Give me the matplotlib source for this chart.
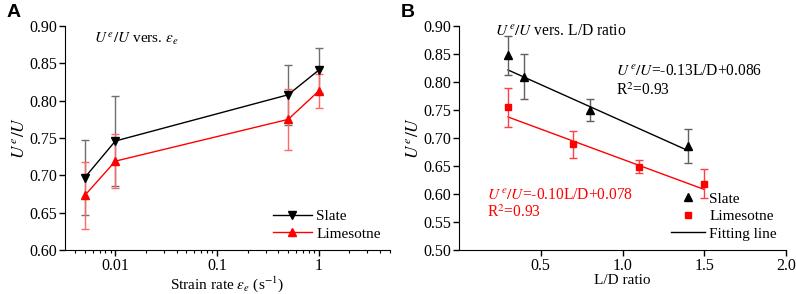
import numpy as np
import matplotlib
matplotlib.use("Agg")
import matplotlib.pyplot as plt
from matplotlib.ticker import FixedLocator, NullFormatter, LogLocator

plt.rcParams["font.family"] = ["Liberation Serif", "DejaVu Serif"]
plt.rcParams["mathtext.fontset"] = "stix"

# panel A: ratio vs strain rate
rate = [0.005, 0.01, 0.5, 1.0]
slate_a = [0.697, 0.746, 0.808, 0.841]
slate_a_err = [0.050, 0.060, 0.040, 0.030]
lime_a = [0.673, 0.719, 0.775, 0.813]
lime_a_err = [0.045, 0.036, 0.041, 0.023]

# panel B: ratio vs L/D
ld_slate = [0.3, 0.4, 0.8, 1.4]
slate_b = [0.848, 0.810, 0.750, 0.686]
slate_b_err = [0.035, 0.040, 0.020, 0.030]
ld_lime = [0.3, 0.7, 1.1, 1.5]
lime_b = [0.755, 0.689, 0.649, 0.618]
lime_b_err = [0.035, 0.024, 0.012, 0.026]

# fitting lines (slope, intercept)
slate_fit = (-0.131, 0.861)
lime_fit = (-0.108, 0.770)

y_ticks = [0.60, 0.65, 0.70, 0.75, 0.80, 0.85, 0.90]
b_y_ticks = [0.50, 0.55, 0.60, 0.65, 0.70, 0.75, 0.80, 0.85, 0.90]

fig = plt.figure(figsize=(7.96, 2.94), dpi=100)
ax_a = fig.add_axes([0.0817, 0.15, 0.408, 0.761])
ax_b = fig.add_axes([0.5766, 0.15, 0.411, 0.761])

fs = 11.5
fs_leg = 11
fs_txt = 11.2

for ax in (ax_a, ax_b):
    ax.spines["top"].set_visible(False)
    ax.spines["right"].set_visible(False)
    ax.tick_params(direction="out", length=4, width=1, labelsize=fs)
    ax.tick_params(axis="y", pad=1.5)
    ax.tick_params(axis="x", pad=1.5)
    ax.tick_params(which="minor", direction="out", length=2.5, width=0.8)

# ---- panel A
ax_a.errorbar(rate, slate_a, yerr=slate_a_err, fmt="none",
              ecolor="#707070", elinewidth=1, capsize=3, zorder=2)
ax_a.errorbar(rate, lime_a, yerr=lime_a_err, fmt="none",
              ecolor="#ff6666", elinewidth=1, capsize=3, zorder=2)
ax_a.plot(rate, slate_a, color="black", lw=1, marker="v", ms=6,
          label="Slate", zorder=3)
ax_a.plot(rate, lime_a, color="red", lw=1, marker="^", ms=6,
          label="Limesotne", zorder=3)

ax_a.set_xscale("log")
ax_a.set_xlim(0.0032, 5.0)
ax_a.set_ylim(0.60, 0.90)
ax_a.set_yticks(y_ticks)
ax_a.set_yticklabels([f"{v:.2f}" for v in y_ticks])
ax_a.xaxis.set_major_locator(FixedLocator([0.01, 0.1, 1]))
ax_a.set_xticklabels(["0.01", "0.1", "1"])
ax_a.xaxis.set_minor_locator(LogLocator(base=10, subs=np.arange(2, 10)))
ax_a.xaxis.set_minor_formatter(NullFormatter())

ax_a.set_ylabel(r"$U^{\,e}/U$", fontsize=fs + 1, labelpad=1)
ax_a.set_xlabel(r"Strain rate $\varepsilon_e$ (s$^{-1}$)", fontsize=11, labelpad=0.3)
ax_a.text(0.09, 0.945, r"$U^{\,e}/U$ vers. $\varepsilon_e$", transform=ax_a.transAxes,
          fontsize=fs - 0.5, va="center", ha="left")
ax_a.legend(loc="lower right", frameon=False, fontsize=fs_leg, handlelength=2.5,
            handletextpad=0.3, borderaxespad=0.2, labelspacing=0.25,
            bbox_to_anchor=(1.0, 0.0))

# ---- panel B
ax_b.errorbar(ld_slate, slate_b, yerr=slate_b_err, fmt="none",
              ecolor="#606060", elinewidth=1, capsize=3, zorder=2)
ax_b.errorbar(ld_lime, lime_b, yerr=lime_b_err, fmt="none",
              ecolor="#ff4040", elinewidth=1, capsize=3, zorder=2)
ax_b.plot(ld_slate, slate_b, ls="none", color="black", marker="^", ms=6,
          label="Slate", zorder=3)
ax_b.plot(ld_lime, lime_b, ls="none", color="red", marker="s", ms=5,
          label="Limesotne", zorder=3)

xs = np.array([ld_slate[0], ld_slate[-1]])
ax_b.plot(xs, slate_fit[0] * xs + slate_fit[1], color="black", lw=1,
          label="Fitting line", zorder=1)
xl = np.array([ld_lime[0], ld_lime[-1]])
ax_b.plot(xl, lime_fit[0] * xl + lime_fit[1], color="red", lw=1, zorder=1)

ax_b.set_xlim(0.0, 2.0)
ax_b.set_ylim(0.50, 0.90)
ax_b.set_xticks([0.5, 1.0, 1.5, 2.0])
ax_b.set_xticklabels(["0.5", "1.0", "1.5", "2.0"])
ax_b.set_yticks(b_y_ticks)
ax_b.set_yticklabels([f"{v:.2f}" for v in b_y_ticks])
ax_b.set_ylabel(r"$U^{\,e}/U$", fontsize=fs + 1, labelpad=1)
ax_b.set_xlabel("L/D ratio", fontsize=11, labelpad=0.3)

ax_b.text(0.11, 0.98, r"$U^{\,e}/U$ vers. L/D ratio", transform=ax_b.transAxes,
          fontsize=fs_txt, va="center", ha="left")
ax_b.text(0.48, 0.80, r"$U^{\,e}/U$=-0.13L/D+0.086", transform=ax_b.transAxes,
          fontsize=fs_txt, va="center", ha="left", color="black")
ax_b.text(0.48, 0.71, r"R$^2$=0.93", transform=ax_b.transAxes,
          fontsize=fs_txt, va="center", ha="left", color="black")
ax_b.text(0.086, 0.247, r"$U^{\,e}/U$=-0.10L/D+0.078", transform=ax_b.transAxes,
          fontsize=fs_txt, va="center", ha="left", color="red")
ax_b.text(0.086, 0.165, r"R$^2$=0.93", transform=ax_b.transAxes,
          fontsize=fs_txt, va="center", ha="left", color="red")
ax_b.legend(loc="lower right", frameon=False, fontsize=fs_leg, handlelength=2.2,
            handletextpad=0.3, borderaxespad=0.2, labelspacing=0.25,
            bbox_to_anchor=(1.0, 0.0))

fig.text(0.008, 0.985, "A", fontsize=14, fontweight="bold", va="top", ha="left",
         family="Liberation Sans")
fig.text(0.503, 0.985, "B", fontsize=14, fontweight="bold", va="top", ha="left",
         family="Liberation Sans")

fig.savefig("out.png", dpi=100)
